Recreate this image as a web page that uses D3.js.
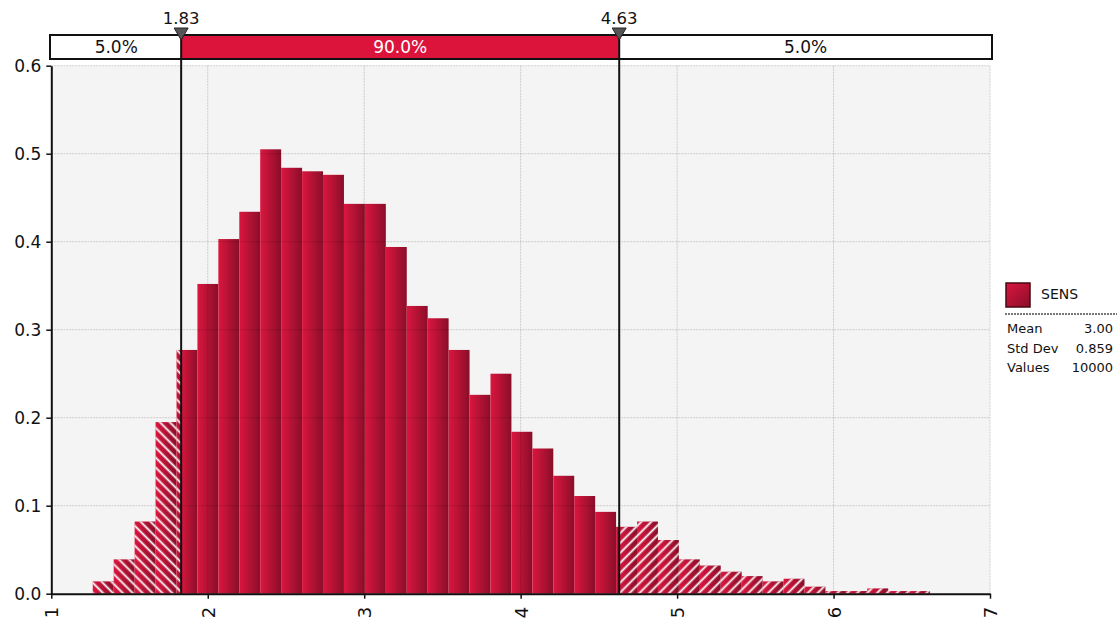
<!DOCTYPE html>
<html>
<head>
<meta charset="utf-8">
<script src="https://cdn.jsdelivr.net/npm/d3@7"></script>
<style>
  body { margin: 0; background: #fff; }
  svg text { font-family: "DejaVu Sans", Verdana, sans-serif; }
</style>
</head>
<body>
<svg id="chart" width="1117" height="621"></svg>
<script>
// Histogram of SENS (40 equal bins), density values
const binStart = 1.265;
const binWidth = 0.1338;
const densities = [
  0.014, 0.039, 0.082, 0.195, 0.277, 0.352, 0.403, 0.434, 0.505, 0.484,
  0.480, 0.476, 0.443, 0.443, 0.394, 0.327, 0.313, 0.277, 0.226, 0.250,
  0.184, 0.165, 0.134, 0.111, 0.093, 0.076, 0.082, 0.061, 0.039, 0.032,
  0.025, 0.020, 0.014, 0.017, 0.008, 0.003, 0.003, 0.006, 0.003, 0.003
];
const markers = [1.83, 4.63];
const bandLabels = ['5.0%', '90.0%', '5.0%'];
const xTicks = [1, 2, 3, 4, 5, 6, 7];
const yTicks = [0, 0.1, 0.2, 0.3, 0.4, 0.5, 0.6];
const seriesName = 'SENS';
const statLabels = ['Mean', 'Std Dev', 'Values'];
const statValues = ['3.00', '0.859', '10000'];

const svg = d3.select('#chart');
const x = d3.scaleLinear().domain([1, 7]).range([51.3, 990]);
const y = d3.scaleLinear().domain([0, 0.6]).range([593.7, 65.7]);

// defs: bar gradient + hatch patterns
const defs = svg.append('defs');
const grad = defs.append('linearGradient').attr('id', 'barGrad')
    .attr('x1', 0).attr('x2', 1).attr('y1', 0).attr('y2', 0);
grad.append('stop').attr('offset', '0%').attr('stop-color', '#db163f');
grad.append('stop').attr('offset', '100%').attr('stop-color', '#8a0e29');

function hatch(id, angle) {
    const p = defs.append('pattern').attr('id', id)
        .attr('patternUnits', 'userSpaceOnUse')
        .attr('width', 7).attr('height', 7)
        .attr('patternTransform', `rotate(${angle})`);
    p.append('line').attr('x1', 3.5).attr('x2', 3.5).attr('y1', 0).attr('y2', 7)
        .attr('stroke', '#fff').attr('stroke-width', 1.8);
}
hatch('hatchL', -45);
hatch('hatchR', 45);

const legGrad = defs.append('linearGradient').attr('id', 'legGrad')
    .attr('x1', 0).attr('x2', 1).attr('y1', 0).attr('y2', 1);
legGrad.append('stop').attr('offset', '0%').attr('stop-color', '#db163f');
legGrad.append('stop').attr('offset', '100%').attr('stop-color', '#8a0e29');

// plot background
svg.append('rect')
    .attr('x', x(1)).attr('y', y(0.6))
    .attr('width', x(7) - x(1)).attr('height', y(0) - y(0.6))
    .attr('fill', '#f4f4f4');

// bars, split at the marker values so the tails get hatched
const pieces = [];
densities.forEach((d, i) => {
    const lo = binStart + i * binWidth, hi = lo + binWidth;
    const cuts = [lo, ...markers.filter(m => m > lo && m < hi), hi];
    for (let k = 0; k < cuts.length - 1; k++) {
        const a = cuts[k], b = cuts[k + 1];
        const mid = (a + b) / 2;
        const zone = mid < markers[0] ? 'L' : (mid > markers[1] ? 'R' : 'M');
        pieces.push({a, b, d, zone});
    }
});

const bars = svg.append('g');
bars.selectAll('rect.bar').data(pieces).join('rect')
    .attr('class', 'bar')
    .attr('x', p => x(p.a)).attr('y', p => y(p.d))
    .attr('width', p => x(p.b) - x(p.a)).attr('height', p => y(0) - y(p.d))
    .attr('fill', 'url(#barGrad)');
bars.selectAll('rect.hatch').data(pieces.filter(p => p.zone !== 'M')).join('rect')
    .attr('class', 'hatch')
    .attr('x', p => x(p.a)).attr('y', p => y(p.d))
    .attr('width', p => x(p.b) - x(p.a)).attr('height', p => y(0) - y(p.d))
    .attr('fill', p => p.zone === 'L' ? 'url(#hatchL)' : 'url(#hatchR)');

// grid (drawn over bars, translucent)
const grid = svg.append('g')
    .attr('stroke', 'rgba(0,0,0,0.17)').attr('stroke-dasharray', '2,1');
grid.selectAll('line.v').data(xTicks.slice(1)).join('line')
    .attr('x1', d => x(d)).attr('x2', d => x(d))
    .attr('y1', y(0.6)).attr('y2', y(0));
grid.selectAll('line.h').data(yTicks.slice(1)).join('line')
    .attr('x1', x(1)).attr('x2', x(7))
    .attr('y1', d => y(d)).attr('y2', d => y(d));

// axes
const yAxis = svg.append('g')
    .attr('transform', `translate(${x(1)},0)`)
    .call(d3.axisLeft(y).tickValues(yTicks).tickFormat(d3.format('.1f')).tickSize(5).tickSizeOuter(0));
yAxis.select('.domain').attr('stroke', '#111').attr('stroke-width', 2);
yAxis.selectAll('.tick line').attr('stroke', '#111').attr('stroke-width', 1.5);
yAxis.selectAll('.tick text').attr('x', -10).attr('font-size', 17).attr('fill', '#111');

const xAxis = svg.append('g')
    .attr('transform', `translate(0,${y(0)})`)
    .call(d3.axisBottom(x).tickValues(xTicks).tickFormat(d3.format('d')).tickSize(5).tickSizeOuter(0));
xAxis.select('.domain').attr('stroke', '#111').attr('stroke-width', 2);
xAxis.selectAll('.tick line').attr('stroke', '#111').attr('stroke-width', 1.5);
xAxis.selectAll('.tick text')
    .attr('font-size', 18).attr('fill', '#111')
    .attr('transform', 'rotate(-90)')
    .attr('text-anchor', 'end')
    .attr('x', -13).attr('y', 0).attr('dy', '0.36em');

// top percentile band
const boxTop = 35, boxH = 24;
const segs = [[x(1), x(markers[0])], [x(markers[0]), x(markers[1])], [x(markers[1]), 992]];
const band = svg.append('g');
band.selectAll('rect').data(segs).join('rect')
    .attr('x', s => s[0]).attr('y', boxTop)
    .attr('width', s => s[1] - s[0]).attr('height', boxH)
    .attr('fill', (s, i) => i === 1 ? '#dc143c' : '#fff');
band.append('rect')
    .attr('x', 50).attr('y', boxTop).attr('width', 942).attr('height', boxH)
    .attr('fill', 'none').attr('stroke', '#111').attr('stroke-width', 2);
band.selectAll('text').data(segs).join('text')
    .attr('x', s => (s[0] + s[1]) / 2).attr('y', boxTop + 18)
    .attr('text-anchor', 'middle').attr('font-size', 17)
    .attr('fill', (s, i) => i === 1 ? '#fff' : '#111')
    .text((s, i) => bandLabels[i]);

// marker lines, triangles and labels
const mk = svg.append('g');
mk.selectAll('line').data(markers).join('line')
    .attr('x1', d => x(d)).attr('x2', d => x(d))
    .attr('y1', 36).attr('y2', y(0))
    .attr('stroke', '#111').attr('stroke-width', 2);
mk.selectAll('path').data(markers).join('path')
    .attr('d', d => `M${x(d) - 7},28 L${x(d) + 7},28 L${x(d)},40 Z`)
    .attr('fill', '#555').attr('stroke', '#222').attr('stroke-width', 1);
mk.selectAll('text').data(markers).join('text')
    .attr('x', d => x(d)).attr('y', 24)
    .attr('text-anchor', 'middle').attr('font-size', 16.5).attr('fill', '#111')
    .text(d => d.toFixed(2));

// legend
const leg = svg.append('g');
leg.append('rect').attr('x', 1006).attr('y', 283).attr('width', 24).attr('height', 24)
    .attr('fill', 'url(#legGrad)').attr('stroke', '#4a0812').attr('stroke-width', 1.5);
leg.append('text').attr('x', 1041).attr('y', 299).attr('font-size', 14).attr('fill', '#111')
    .text(seriesName);
leg.append('line').attr('x1', 1005).attr('x2', 1117).attr('y1', 314).attr('y2', 314)
    .attr('stroke', '#777').attr('stroke-width', 2).attr('stroke-dasharray', '2,1');
statLabels.forEach((lab, i) => {
    leg.append('text').attr('x', 1007).attr('y', 333 + i * 19.5)
        .attr('font-size', 13).attr('fill', '#111').text(lab);
    leg.append('text').attr('x', 1113).attr('y', 333 + i * 19.5)
        .attr('text-anchor', 'end').attr('font-size', 13).attr('fill', '#111').text(statValues[i]);
});
</script>
</body>
</html>
